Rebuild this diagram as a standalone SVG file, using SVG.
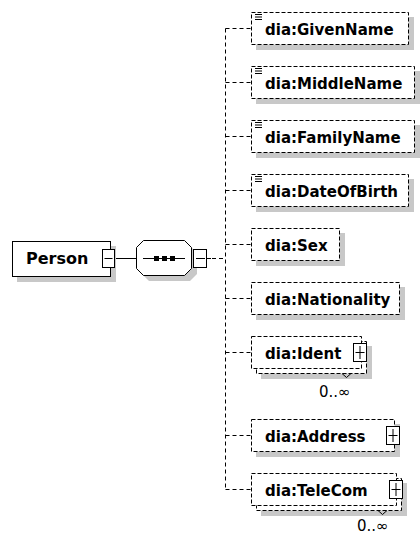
<svg xmlns="http://www.w3.org/2000/svg" width="420" height="536" viewBox="0 0 420 536">
<style>
.sh{fill:#c8c8c8;stroke:none}
.box{fill:#fff;stroke:#000;stroke-width:1;stroke-dasharray:4,2}
.solid{fill:#fff;stroke:#000;stroke-width:1}
.btn{fill:#fff;stroke:#000;stroke-width:1}
.ln{fill:none;stroke:#000;stroke-width:1}
.conn{fill:none;stroke:#000;stroke-width:1;stroke-dasharray:4,3}
.lbl{font-family:"DejaVu Sans",Verdana,sans-serif;font-weight:bold;font-size:15px;fill:#000}
.occ{font-family:"DejaVu Sans",Verdana,sans-serif;font-size:15px;fill:#000}
</style>
<rect width="420" height="536" fill="#fff"/>
<g id="connectors">
<path class="ln" d="M114.5 258.5H136.5"/>
<path class="ln" d="M206.5 258.5H211"/>
<path class="conn" d="M212 258.5H225.5"/>
<path class="conn" d="M225.5 28.5V489.5"/>
<path class="conn" d="M225.5 28.5H251.5M225.5 82.5H251.5M225.5 136.5H251.5M225.5 190.5H251.5M225.5 244.5H251.5M225.5 298.5H251.5M225.5 352.5H251.5M225.5 435.5H251.5M225.5 489.5H251.5"/>
</g>
<g id="person">
<rect class="sh" x="17" y="246" width="99" height="36"/>
<rect class="solid" x="12.5" y="241.5" width="98" height="35"/>
<text class="lbl" x="26" y="264" style="font-size:16px">Person</text>
<rect class="btn" x="102.5" y="249.5" width="12" height="18"/>
<path class="ln" d="M104.5 258.5H112.5"/>
</g>
<g id="sequence">
<polygon class="sh" points="149,246 190,246 197,253 197,274 190,281 149,281 142,274 142,253"/>
<polygon class="solid" points="143.5,240.5 184.5,240.5 191.5,247.5 191.5,268.5 184.5,275.5 143.5,275.5 136.5,268.5 136.5,247.5"/>
<path class="ln" d="M143 258.5H185"/>
<rect x="154" y="256" width="5" height="5" fill="#000"/>
<rect x="162" y="256" width="5" height="5" fill="#000"/>
<rect x="170" y="256" width="5" height="5" fill="#000"/>
<rect class="btn" x="193.5" y="249.5" width="13" height="18"/>
<path class="ln" d="M196 258.5H205"/>
</g>
<g id="GivenName">
<rect class="sh" x="256" y="17" width="158" height="33"/>
<rect class="box" x="251.5" y="12.5" width="157" height="32"/>
<path class="ln" d="M255 14.5H262M255 17H262M255 19.5H262"/>
<text class="lbl" x="265" y="35">dia:GivenName</text>
</g>
<g id="MiddleName">
<rect class="sh" x="256" y="71" width="164" height="33"/>
<rect class="box" x="251.5" y="66.5" width="163" height="32"/>
<path class="ln" d="M255 68.5H262M255 71H262M255 73.5H262"/>
<text class="lbl" x="265" y="89">dia:MiddleName</text>
</g>
<g id="FamilyName">
<rect class="sh" x="256" y="125" width="164" height="33"/>
<rect class="box" x="251.5" y="120.5" width="163" height="32"/>
<path class="ln" d="M255 122.5H262M255 125H262M255 127.5H262"/>
<text class="lbl" x="265" y="143">dia:FamilyName</text>
</g>
<g id="DateOfBirth">
<rect class="sh" x="256" y="179" width="158" height="33"/>
<rect class="box" x="251.5" y="174.5" width="157" height="32"/>
<path class="ln" d="M255 176.5H262M255 179H262M255 181.5H262"/>
<text class="lbl" x="265" y="197">dia:DateOfBirth</text>
</g>
<g id="Sex">
<rect class="sh" x="256" y="233" width="89" height="33"/>
<rect class="box" x="251.5" y="228.5" width="88" height="32"/>
<text class="lbl" x="265" y="251">dia:Sex</text>
</g>
<g id="Nationality">
<rect class="sh" x="256" y="287" width="149" height="33"/>
<rect class="box" x="251.5" y="282.5" width="148" height="32"/>
<text class="lbl" x="265" y="305">dia:Nationality</text>
</g>
<g id="Ident">
<rect class="sh" x="261" y="346" width="111" height="33"/>
<rect class="box" x="256.5" y="341.5" width="110" height="32"/>
<rect class="box" x="251.5" y="336.5" width="110" height="32"/>
<path class="ln" d="M342 373.5L346.5 377.5L351 373.5"/>
<text class="lbl" x="265" y="359">dia:Ident</text>
<rect class="btn" x="353.5" y="343.5" width="13" height="18"/>
<path class="ln" d="M355.5 352.5H364.5M360 346V359"/>
<text class="occ" x="319" y="397">0..∞</text>
</g>
<g id="Address">
<rect class="sh" x="256" y="424" width="144" height="33"/>
<rect class="box" x="251.5" y="419.5" width="143" height="32"/>
<text class="lbl" x="265" y="442">dia:Address</text>
<rect class="btn" x="386.5" y="426.5" width="13" height="18"/>
<path class="ln" d="M388.5 435.5H397.5M393 429V442"/>
</g>
<g id="TeleCom">
<rect class="sh" x="261" y="483" width="146" height="33"/>
<rect class="box" x="256.5" y="478.5" width="145" height="32"/>
<rect class="box" x="251.5" y="473.5" width="145" height="32"/>
<path class="ln" d="M378 510.5L382.5 514.5L387 510.5"/>
<text class="lbl" x="265" y="496">dia:TeleCom</text>
<rect class="btn" x="389.5" y="480.5" width="13" height="18"/>
<path class="ln" d="M391.5 489.5H400.5M396 483V496"/>
<text class="occ" x="357" y="531">0..∞</text>
</g>
</svg>
